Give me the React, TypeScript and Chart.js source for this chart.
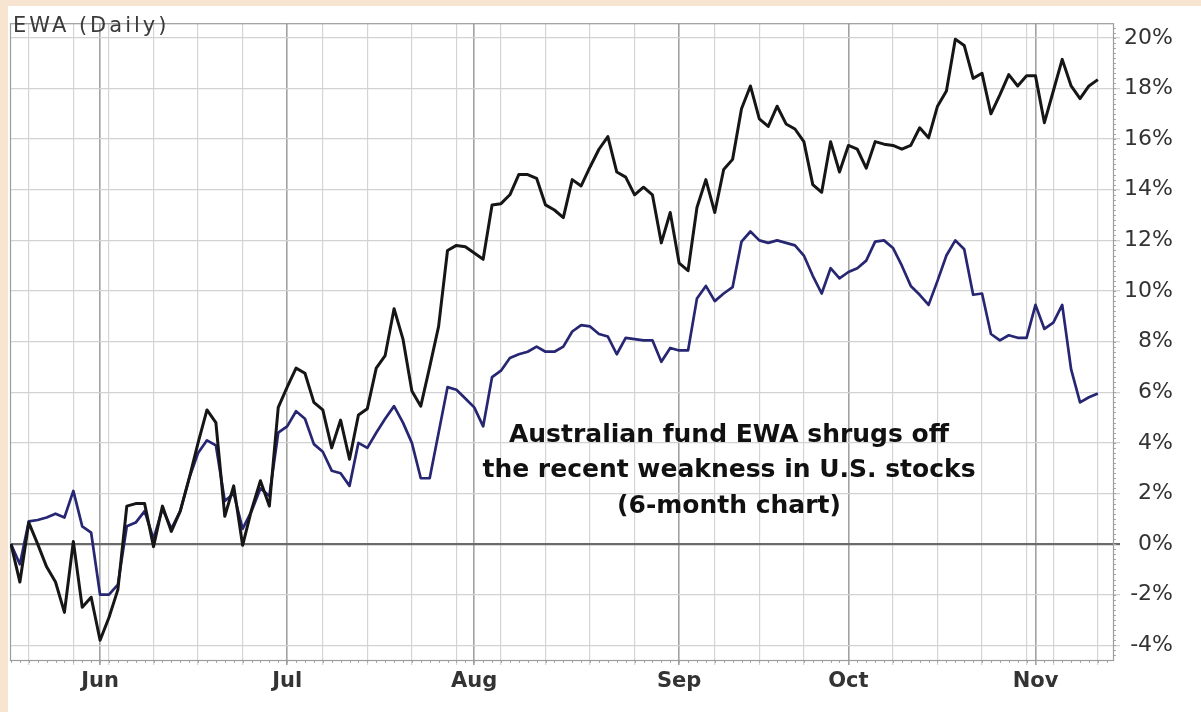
import React, { useEffect, useRef } from 'react';
import { Chart, registerables } from 'chart.js';

Chart.register(...registerables);

// Trading-day index 0 = May 17 2012 ... 122 = Nov 12 2012
const ewa = [
  0, -1.5, 0.85, 0.0, -0.9, -1.5, -2.7, 0.1, -2.5, -2.1,
  -3.8, -2.9, -1.8, 1.5, 1.6, 1.6, -0.1, 1.5, 0.5, 1.3,
  2.6, 4.0, 5.3, 4.8, 1.1, 2.3, -0.05, 1.35, 2.5, 1.5,
  5.4, 6.2, 6.95, 6.75, 5.6, 5.3, 3.8, 4.9, 3.35, 5.1,
  5.35, 6.95, 7.45, 9.3, 8.1, 6.05, 5.45, 7.0, 8.6, 11.6,
  11.8, 11.75, 11.5, 11.25, 13.4, 13.45, 13.8, 14.6, 14.6, 14.45,
  13.4, 13.2, 12.9, 14.4, 14.15, 14.9, 15.6, 16.1, 14.7, 14.5,
  13.8, 14.1, 13.8, 11.9, 13.1, 11.1, 10.8, 13.3, 14.4, 13.1,
  14.8, 15.2, 17.2, 18.1, 16.8, 16.5, 17.3, 16.6, 16.4, 15.9,
  14.2, 13.9, 15.9, 14.7, 15.75, 15.6, 14.85, 15.9, 15.8, 15.75,
  15.6, 15.75, 16.45, 16.05, 17.3, 17.9, 19.95, 19.7, 18.4, 18.6,
  17.0, 17.75, 18.55, 18.1, 18.5, 18.5, 16.65, 17.9, 19.15, 18.1,
  17.6, 18.1, 18.35,
];

const spx = [
  0, -0.8, 0.9, 0.95, 1.05, 1.2, 1.05, 2.1, 0.7, 0.45,
  -2.0, -2.0, -1.6, 0.7, 0.85, 1.3, 0.2, 1.4, 0.6, 1.3,
  2.6, 3.6, 4.1, 3.9, 1.7, 2.0, 0.6, 1.3, 2.2, 1.9,
  4.4, 4.65, 5.25, 4.95, 3.95, 3.65, 2.9, 2.8, 2.3, 4.0,
  3.8, 4.4, 4.95, 5.45, 4.8, 4.0, 2.6, 2.6, 4.4, 6.2,
  6.1, 5.75, 5.4, 4.65, 6.6, 6.85, 7.35, 7.5, 7.6, 7.8,
  7.6, 7.6, 7.8, 8.4, 8.65, 8.6, 8.3, 8.2, 7.5, 8.15,
  8.1, 8.05, 8.05, 7.2, 7.75, 7.65, 7.65, 9.7, 10.2, 9.6,
  9.9, 10.15, 11.95, 12.35, 12.0, 11.9, 12.0, 11.9, 11.8, 11.4,
  10.6, 9.9, 10.9, 10.5, 10.75, 10.9, 11.2, 11.95, 12.0, 11.7,
  11.0, 10.2, 9.85, 9.45, 10.4, 11.4, 12.0, 11.65, 9.85, 9.9,
  8.3, 8.05, 8.25, 8.15, 8.15, 9.45, 8.5, 8.75, 9.45, 6.9,
  5.6, 5.8, 5.95,
];

const monthLabels = ['Jun', 'Jul', 'Aug', 'Sep', 'Oct', 'Nov'];
const monthTickIdx = [10, 31, 52, 75, 94, 115];
const weekTickIdx = [2, 7, 11, 16, 21, 26, 35, 40, 45, 50, 55, 60, 65, 70, 79, 84, 89, 99, 104, 109, 114, 117, 122];
const yTicks = [-4, -2, 0, 2, 4, 6, 8, 10, 12, 14, 16, 18, 20];
const chartTitle = 'EWA (Daily)';
const noteLines = ['Australian fund EWA shrugs off', 'the recent weakness in U.S. stocks', '(6-month chart)'];

const FONT = "'DejaVu Sans', sans-serif";

export default function App() {
  const ref = useRef<HTMLCanvasElement>(null);

  useEffect(() => {
    document.body.style.margin = '6px 0 0 8px';
    document.body.style.background = '#f7e4d1';
    const canvas = ref.current;
    if (!canvas) return;

    const decor = {
      id: 'decor',
      beforeDatasetsDraw(chart: any) {
        const { ctx, chartArea: a, scales } = chart;
        ctx.save();
        ctx.strokeStyle = '#a8a8a8';
        ctx.lineWidth = 1;
        ctx.beginPath();
        for (let i = 0; i < ewa.length + 1; i++) {
          const x = Math.round(scales.x.getPixelForValue(i)) + 0.5;
          ctx.moveTo(x, a.bottom);
          ctx.lineTo(x, a.bottom + 3);
        }
        for (let v = -4.4; v <= 20.5; v += 0.2) {
          const y = Math.round(scales.y.getPixelForValue(v)) + 0.5;
          ctx.moveTo(a.right, y);
          ctx.lineTo(a.right + 3, y);
        }
        ctx.stroke();
        ctx.strokeStyle = '#9c9c9c';
        ctx.lineWidth = 1.2;
        ctx.strokeRect(a.left + 0.5, a.top + 0.5, a.right - a.left, a.bottom - a.top);
        ctx.restore();
      },
      afterDraw(chart: any) {
        const { ctx, chartArea: a } = chart;
        ctx.save();
        ctx.fillStyle = '#3a3a3a';
        ctx.font = `21px ${FONT}`;
        (ctx as any).letterSpacing = '3px';
        ctx.textAlign = 'left';
        ctx.textBaseline = 'alphabetic';
        ctx.fillText(chartTitle, a.left + 3, 26);
        (ctx as any).letterSpacing = '0px';
        ctx.fillStyle = '#111';
        ctx.font = `bold 25px ${FONT}`;
        ctx.textAlign = 'center';
        const cx = 721;
        const base = [436, 471, 507];
        noteLines.forEach((t, k) => ctx.fillText(t, cx, base[k]));
        ctx.restore();
      },
    };

    const chart = new Chart(canvas, {
      type: 'line',
      data: {
        datasets: [
          {
            label: 'EWA',
            data: ewa.map((v, i) => ({ x: i, y: v })),
            borderColor: '#161616',
            borderWidth: 3,
            pointRadius: 0,
            tension: 0,
            borderJoinStyle: 'round',
          },
          {
            label: 'S&P 500',
            data: spx.map((v, i) => ({ x: i, y: v })),
            borderColor: '#262672',
            borderWidth: 2.7,
            pointRadius: 0,
            tension: 0,
            borderJoinStyle: 'round',
          },
        ],
      },
      options: {
        animation: false,
        responsive: false,
        devicePixelRatio: 1,
        layout: { padding: { left: 2, top: 1, right: 28, bottom: 0 } },
        plugins: { legend: { display: false }, tooltip: { enabled: false }, title: { display: false } },
        scales: {
          x: {
            type: 'linear',
            min: -0.11,
            max: 123.7,
            border: { display: false },
            afterBuildTicks: (scale: any) => {
              const all = [...weekTickIdx, ...monthTickIdx].sort((p, q) => p - q);
              scale.ticks = all.map((v) => ({ value: v }));
            },
            afterFit: (scale: any) => {
              scale.height = 52;
            },
            grid: {
              color: (c: any) => (c.tick && monthTickIdx.includes(c.tick.value) ? '#a2a2a2' : '#d4d4d4'),
              lineWidth: (c: any) => (c.tick && monthTickIdx.includes(c.tick.value) ? 1.6 : 1.2),
              tickLength: 5,
            },
            ticks: {
              autoSkip: false,
              maxRotation: 0,
              minRotation: 0,
              padding: 4,
              color: '#333',
              font: { family: FONT, size: 21, weight: 'bold' },
              callback: (v: any) => {
                const k = monthTickIdx.indexOf(Number(v));
                return k >= 0 ? monthLabels[k] : '';
              },
            },
          },
          y: {
            type: 'linear',
            position: 'right',
            min: -4.58,
            max: 20.58,
            border: { display: false },
            afterBuildTicks: (scale: any) => {
              scale.ticks = yTicks.map((v) => ({ value: v }));
            },
            afterFit: (scale: any) => {
              scale.width = 60;
            },
            grid: {
              color: (c: any) => (c.tick && c.tick.value === 0 ? '#6a6a6a' : '#d2d2d2'),
              lineWidth: (c: any) => (c.tick && c.tick.value === 0 ? 2.2 : 1.3),
              tickLength: 7,
            },
            ticks: {
              padding: 4,
              crossAlign: 'far',
              color: '#333',
              font: { family: FONT, size: 22 },
              callback: (v: any) => `${v}%`,
            },
          },
        },
      },
      plugins: [decor],
    } as any);

    return () => chart.destroy();
  }, []);

  return (
    <div style={{ width: 1193, height: 706, background: '#fff' }}>
      <canvas ref={ref} width={1193} height={706} style={{ display: 'block' }} />
    </div>
  );
}
